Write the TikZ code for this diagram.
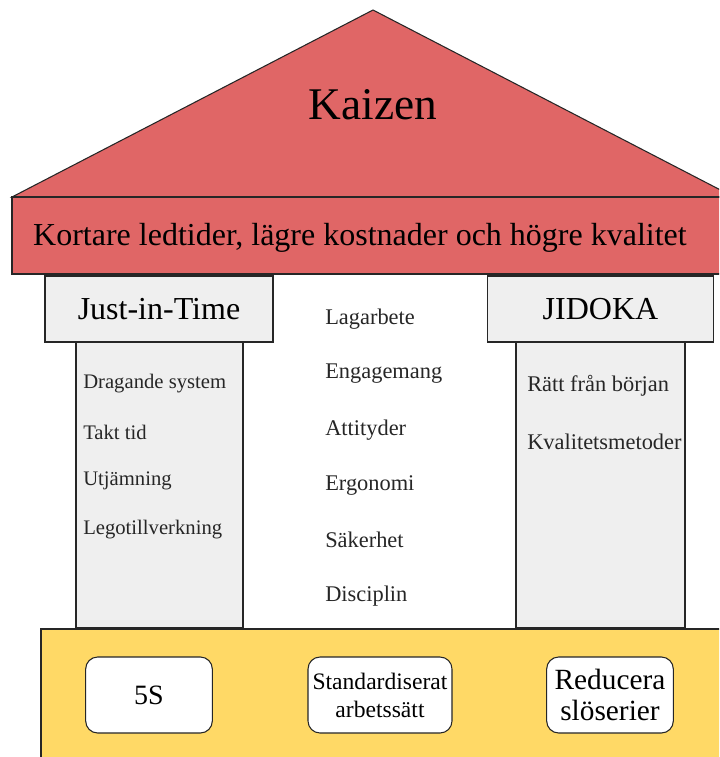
\documentclass[tikz,border=0pt]{standalone}
\usepackage{fontspec}
\setmainfont{Liberation Serif}
\definecolor{roofred}{HTML}{E06666}
\definecolor{pillargray}{HTML}{EFEFEF}
\definecolor{baseyellow}{HTML}{FFD966}
\tikzset{
  part/.style={draw=black!85, line width=0.8pt},
  capbox/.style={part, fill=pillargray, minimum height=49.5pt, inner sep=0pt,
    font=\fontsize{24}{28}\selectfont},
  item/.style={anchor=west, inner sep=0pt, text=black!85},
  basebox/.style={part, fill=white, rounded corners=9pt, minimum height=57pt,
    inner sep=1pt, align=center}
}
\begin{document}
\begin{tikzpicture}[x=0.75pt,y=-0.75pt]
    \useasboundingbox (0,0) rectangle (719,757);
    \clip (0,0) rectangle (719,757);
    % roof and beam
    \draw[part, fill=roofred] (12,197) -- (373,10) -- (734,197) -- cycle;
    \node (kaizen) at (373,105) {\fontsize{34}{40}\selectfont Kaizen};
    \draw[part, fill=roofred] (12,197) rectangle (740,274);
    \draw[black!85, line width=1.4pt] (12,197) -- (740,197);
    \node (goal) at (360,238) {\fontsize{24}{28}\selectfont Kortare ledtider, lägre kostnader och högre kvalitet};
    % pillars
    \draw[part, fill=pillargray] (76,342) rectangle (243,628);
    \draw[part, fill=pillargray] (516,342) rectangle (685,628);
    \node[capbox, minimum width=171pt] (jit) at (159,309) {Just-in-Time};
    \node[capbox, minimum width=170pt] (jidoka) at (600.5,309) {JIDOKA};
    \begin{scope}[every node/.append style={font=\fontsize{15.5}{18}\selectfont}]
        \node[item] (drag) at (83,384) {Dragande system};
        \node[item] (takt) at (83,432) {Takt tid};
        \node[item] (utj) at (83,481) {Utjämning};
        \node[item] (lego) at (83,530) {Legotillverkning};
    \end{scope}
    \begin{scope}[every node/.append style={font=\fontsize{16.8}{20}\selectfont}]
        \node[item] (lag) at (325,319) {Lagarbete};
        \node[item] (eng) at (325,374) {Engagemang};
        \node[item] (att) at (325,430) {Attityder};
        \node[item] (erg) at (325,485) {Ergonomi};
        \node[item] (sak) at (325,540) {Säkerhet};
        \node[item] (dis) at (325,596) {Disciplin};
        \node[item] (ratt) at (527,386) {Rätt från början};
        \node[item] (kval) at (527,442) {Kvalitetsmetoder};
    \end{scope}
    % foundation
    \draw[part, fill=baseyellow] (41,629) rectangle (740,770);
    \node[basebox, minimum width=95pt, font=\fontsize{21}{24}\selectfont] (fem) at (149,695) {5S};
    \node[basebox, minimum width=108pt, font=\fontsize{17.7}{21}\selectfont] (std) at (380,695) {Standardiserat\\arbetssätt};
    \node[basebox, minimum width=95pt, font=\fontsize{22}{23}\selectfont] (red) at (610,695) {Reducera\\slöserier};
\end{tikzpicture}
\end{document}
